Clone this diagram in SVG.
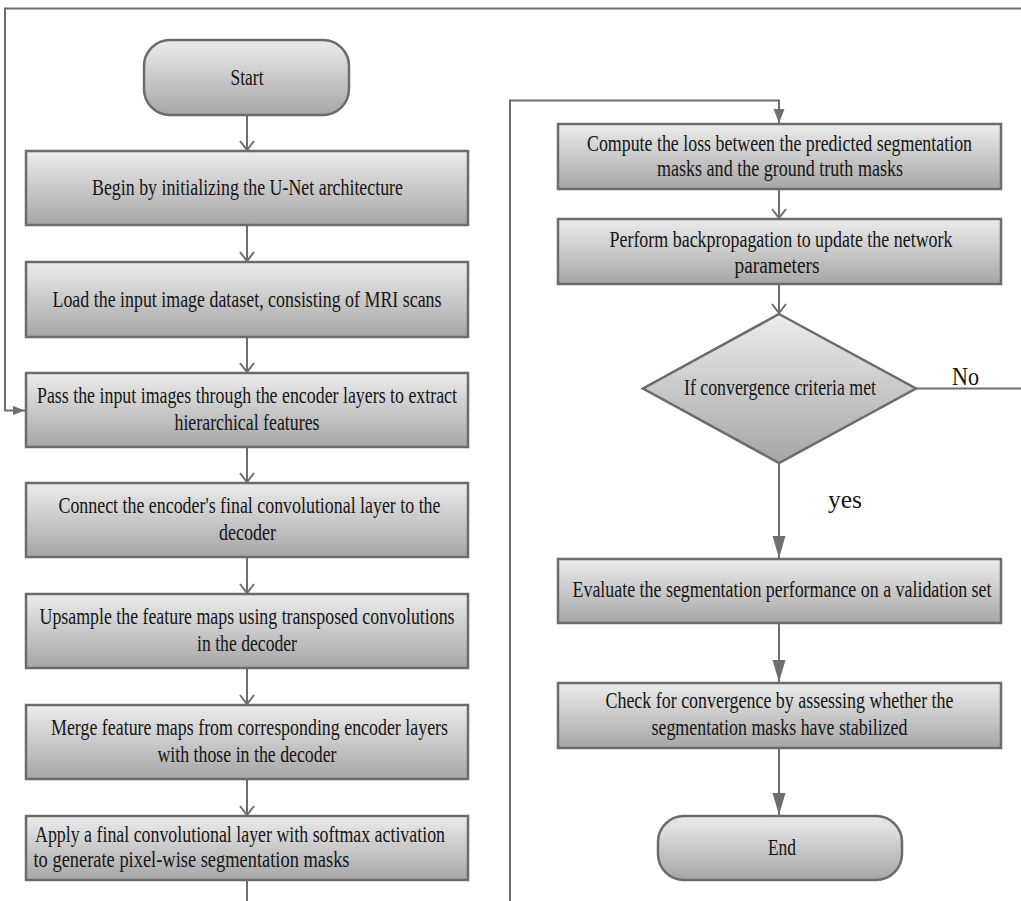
<svg xmlns="http://www.w3.org/2000/svg" width="1021" height="901" viewBox="0 0 1021 901">
<style>
.box{fill:url(#g);stroke:#6b6b6b;stroke-width:2.5}
.t{font-family:"Liberation Serif","Times New Roman",serif;font-size:23px;fill:#151515;text-anchor:middle}
.tl{font-family:"Liberation Serif","Times New Roman",serif;font-size:23px;fill:#151515;text-anchor:start}
.lbl{font-family:"Liberation Serif","Times New Roman",serif;font-size:25px;fill:#151515}
.c{fill:none;stroke:#6e6e6e;stroke-width:2}
</style>
<defs>
<linearGradient id="g" x1="0" y1="0" x2="0" y2="1">
<stop offset="0" stop-color="#ececec"/>
<stop offset="1" stop-color="#a6a6a6"/>
</linearGradient>
<marker id="open" markerUnits="userSpaceOnUse" markerWidth="16" markerHeight="14" refX="10" refY="6" orient="auto" overflow="visible">
<path d="M1,-1 L10,6 L1,13" fill="none" stroke="#6e6e6e" stroke-width="2"/>
</marker>
<marker id="fillS" markerUnits="userSpaceOnUse" markerWidth="16" markerHeight="14" refX="14" refY="5.5" orient="auto" overflow="visible">
<path d="M0,0 L14,5.5 L0,11 Z" fill="#6e6e6e"/>
</marker>
<marker id="fillL" markerUnits="userSpaceOnUse" markerWidth="24" markerHeight="14" refX="22" refY="6.5" orient="auto" overflow="visible">
<path d="M0,0 L22,6.5 L0,13 Z" fill="#6e6e6e"/>
</marker>
<marker id="fillXS" markerUnits="userSpaceOnUse" markerWidth="14" markerHeight="10" refX="12" refY="4.5" orient="auto" overflow="visible">
<path d="M0,0 L12,4.5 L0,9 Z" fill="#6e6e6e"/>
</marker>
</defs>

<g id="connectors">
<path class="c" d="M247,115 V150" marker-end="url(#open)"/>
<path class="c" d="M247,225 V261" marker-end="url(#open)"/>
<path class="c" d="M247,337 V372" marker-end="url(#open)"/>
<path class="c" d="M247,447 V482" marker-end="url(#open)"/>
<path class="c" d="M247,557 V593" marker-end="url(#open)"/>
<path class="c" d="M247,668 V704" marker-end="url(#open)"/>
<path class="c" d="M247,779 V815" marker-end="url(#open)"/>
<path class="c" d="M247,880 V901"/>
<path class="c" d="M510,901 V100.5 H779 V123" marker-end="url(#fillS)"/>
<path class="c" d="M779,189 V218" marker-end="url(#open)"/>
<path class="c" d="M779,284 V313" marker-end="url(#open)"/>
<path class="c" d="M779,463 V558" marker-end="url(#fillL)"/>
<path class="c" d="M779,623 V682" marker-end="url(#fillL)"/>
<path class="c" d="M779,748 V815" marker-end="url(#fillL)"/>
<path class="c" d="M916,388.5 H1024 V8.5 H5 V410.5 H25" marker-end="url(#fillXS)"/>
<text class="lbl" x="952" y="385" textLength="27" lengthAdjust="spacingAndGlyphs">No</text>
<text class="lbl" x="828" y="508" textLength="34" lengthAdjust="spacingAndGlyphs">yes</text>
</g>

<g id="start">
<rect class="box" x="144" y="40" width="205" height="75" rx="26" ry="26"/>
<text class="t" x="247" y="85" textLength="33" lengthAdjust="spacingAndGlyphs">Start</text>
</g>
<g id="n1">
<rect class="box" x="26" y="151" width="442" height="74"/>
<text class="t" x="247.5" y="195" textLength="311" lengthAdjust="spacingAndGlyphs">Begin by initializing the U-Net architecture</text>
</g>
<g id="n2">
<rect class="box" x="26" y="262" width="442" height="75"/>
<text class="t" x="247" y="307" textLength="389" lengthAdjust="spacingAndGlyphs">Load the input image dataset, consisting of MRI scans</text>
</g>
<g id="n3">
<rect class="box" x="26" y="373" width="442" height="74"/>
<text class="t" x="247" y="403" textLength="420" lengthAdjust="spacingAndGlyphs">Pass the input images through the encoder layers to extract</text>
<text class="t" x="247" y="430" textLength="145" lengthAdjust="spacingAndGlyphs">hierarchical features</text>
</g>
<g id="n4">
<rect class="box" x="26" y="483" width="442" height="74"/>
<text class="t" x="249.5" y="513" textLength="382" lengthAdjust="spacingAndGlyphs">Connect the encoder's final convolutional layer to the</text>
<text class="t" x="247.5" y="540" textLength="57" lengthAdjust="spacingAndGlyphs">decoder</text>
</g>
<g id="n5">
<rect class="box" x="26" y="594" width="442" height="74"/>
<text class="t" x="247" y="624" textLength="415" lengthAdjust="spacingAndGlyphs">Upsample the feature maps using transposed convolutions</text>
<text class="t" x="247" y="651" textLength="100" lengthAdjust="spacingAndGlyphs">in the decoder</text>
</g>
<g id="n6">
<rect class="box" x="26" y="705" width="442" height="74"/>
<text class="t" x="249.5" y="735" textLength="397" lengthAdjust="spacingAndGlyphs">Merge feature maps from corresponding encoder layers</text>
<text class="t" x="247" y="762" textLength="179" lengthAdjust="spacingAndGlyphs">with those in the decoder</text>
</g>
<g id="n7">
<rect class="box" x="26" y="816" width="442" height="64"/>
<text class="tl" x="35" y="842" textLength="410" lengthAdjust="spacingAndGlyphs">Apply a final convolutional layer with softmax activation</text>
<text class="tl" x="33.5" y="867" textLength="316" lengthAdjust="spacingAndGlyphs">to generate pixel-wise segmentation masks</text>
</g>
<g id="n8">
<rect class="box" x="558" y="124" width="443" height="65"/>
<text class="t" x="779.5" y="151" textLength="385" lengthAdjust="spacingAndGlyphs">Compute the loss between the predicted segmentation</text>
<text class="t" x="780" y="176" textLength="246" lengthAdjust="spacingAndGlyphs">masks and the ground truth masks</text>
</g>
<g id="n9">
<rect class="box" x="558" y="219" width="443" height="65"/>
<text class="t" x="781" y="247" textLength="343" lengthAdjust="spacingAndGlyphs">Perform backpropagation to update the network</text>
<text class="t" x="777" y="273" textLength="85" lengthAdjust="spacingAndGlyphs">parameters</text>
</g>
<g id="decision">
<polygon class="box" points="779,314 916,388.5 779,463 643,388.5"/>
<text class="t" x="780" y="395" textLength="192" lengthAdjust="spacingAndGlyphs">If convergence criteria met</text>
</g>
<g id="n10">
<rect class="box" x="558" y="559" width="443" height="64"/>
<text class="t" x="782" y="597" textLength="419" lengthAdjust="spacingAndGlyphs">Evaluate the segmentation performance on a validation set</text>
</g>
<g id="n11">
<rect class="box" x="558" y="683" width="443" height="65"/>
<text class="t" x="779.5" y="708" textLength="348" lengthAdjust="spacingAndGlyphs">Check for convergence by assessing whether the</text>
<text class="t" x="779.5" y="735" textLength="256" lengthAdjust="spacingAndGlyphs">segmentation masks have stabilized</text>
</g>
<g id="end">
<rect class="box" x="658" y="816" width="244" height="64" rx="26" ry="26"/>
<text class="t" x="782" y="855" textLength="28" lengthAdjust="spacingAndGlyphs">End</text>
</g>
</svg>
